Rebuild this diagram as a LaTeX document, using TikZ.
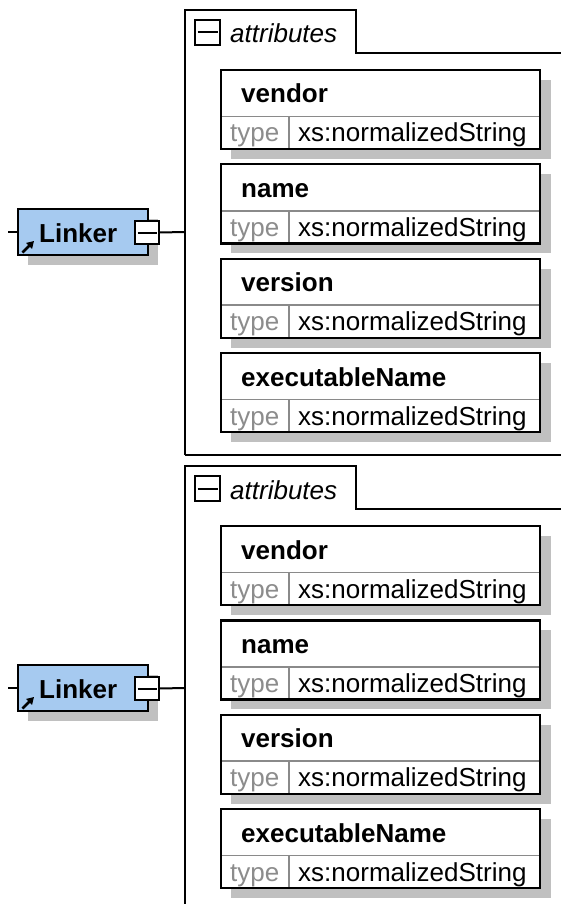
\documentclass[tikz,border=0pt]{standalone}
\usepackage{fontspec}
\setmainfont{Liberation Sans}
\usetikzlibrary{arrows.meta}
\definecolor{linkerblue}{HTML}{A6CAF0}
\definecolor{shadowgray}{HTML}{C0C0C0}
\definecolor{sepgray}{HTML}{8A8A8A}
\definecolor{typegray}{HTML}{8C8C8C}
\newcommand\attrbox[3]{%
  \fill[shadowgray] (231,#2+10) rectangle (551,#2+89);
  \node[abox] (#1) at (380.5,#2+39.5) {};
  \draw[sepline] (222.3,#2+46.5) -- (538.7,#2+46.5);
  \draw[sepline] (289,#2+46.5) -- (289,#2+77.8);
  \node[lbl,font=\fontsize{26}{30}\selectfont\bfseries] (#1n) at (241,#2+33) {#3};
  \node[lbl,text=typegray] (#1k) at (230,#2+72) {type};
  \node[lbl] (#1v) at (298,#2+72) {xs:normalizedString};
}
\newcommand\linkerunit[2]{%
  \fill[shadowgray] (28,#2-13) rectangle (158,#2+33);
  \node[linkerbox] (#1) at (83,#2) {};
  \node[lbl,font=\fontsize{26}{30}\selectfont\bfseries] (#1t) at (39,#2+10) {Linker};
  \draw[line width=2.8pt,-{Triangle[length=7pt,width=8pt]}] (22.5,#2+20.5) -- (34,#2+9);
  \node[btn] (#1b) at (147,#2+0.5) {};
  \draw[line width=2pt] (137.5,#2+0.5) -- (156.5,#2+0.5);
  \coordinate (#1in) at (8,#2);
  \coordinate (#1f) at (185,#2);
  \draw[conn] (#1in) -- (#1.west);
  \draw[conn] (#1b.east) -- (#1f);
}
\newcommand\attrframe[2]{%
  \draw[frameline] (185,#2+445) -- (185,#2) -- (356,#2) -- (356,#2+43) -- (575,#2+43);
  \draw[frameline] (185,#2+445) -- (575,#2+445);
  \node[fbtn] (#1m) at (207.5,#2+22.5) {};
  \draw[line width=2pt] (197.5,#2+22.5) -- (217.5,#2+22.5);
  \node[lbl,font=\fontsize{26}{30}\selectfont\itshape] (#1a) at (230,#2+33) {attributes};
}
\begin{document}
\begin{tikzpicture}[x=1pt,y=-1pt,
  font=\fontsize{26}{30}\selectfont,
  abox/.style={draw=black,line width=2.4pt,fill=white,minimum width=319pt,minimum height=79pt,inner sep=0pt,outer sep=0pt},
  sepline/.style={draw=sepgray,line width=1.6pt},
  frameline/.style={draw=black,line width=2pt},
  linkerbox/.style={draw=black,line width=2.4pt,fill=linkerblue,minimum width=130pt,minimum height=46pt,inner sep=0pt,outer sep=0pt},
  btn/.style={draw=black,fill=white,line width=2pt,minimum width=24pt,minimum height=23pt,inner sep=0pt,outer sep=0pt},
  fbtn/.style={draw=black,fill=white,line width=2pt,minimum width=25pt,minimum height=25pt,inner sep=0pt,outer sep=0pt},
  conn/.style={draw=black,line width=2pt},
  lbl/.style={inner sep=0pt,anchor=base west,text=black}]
\useasboundingbox (0,0) rectangle (561,904);
\clip (0,0) rectangle (561,904);
\fill[white] (0,0) rectangle (561,904);
% first group
\attrframe{fA}{10}
\attrbox{aA1}{70}{vendor}
\attrbox{aA2}{164.3}{name}
\attrbox{aA3}{258.7}{version}
\attrbox{aA4}{353}{executableName}
\linkerunit{lA}{232}
% second group
\attrframe{fB}{466}
\attrbox{aB1}{526}{vendor}
\attrbox{aB2}{620.3}{name}
\attrbox{aB3}{714.7}{version}
\attrbox{aB4}{809}{executableName}
\linkerunit{lB}{688}
\end{tikzpicture}
\end{document}
